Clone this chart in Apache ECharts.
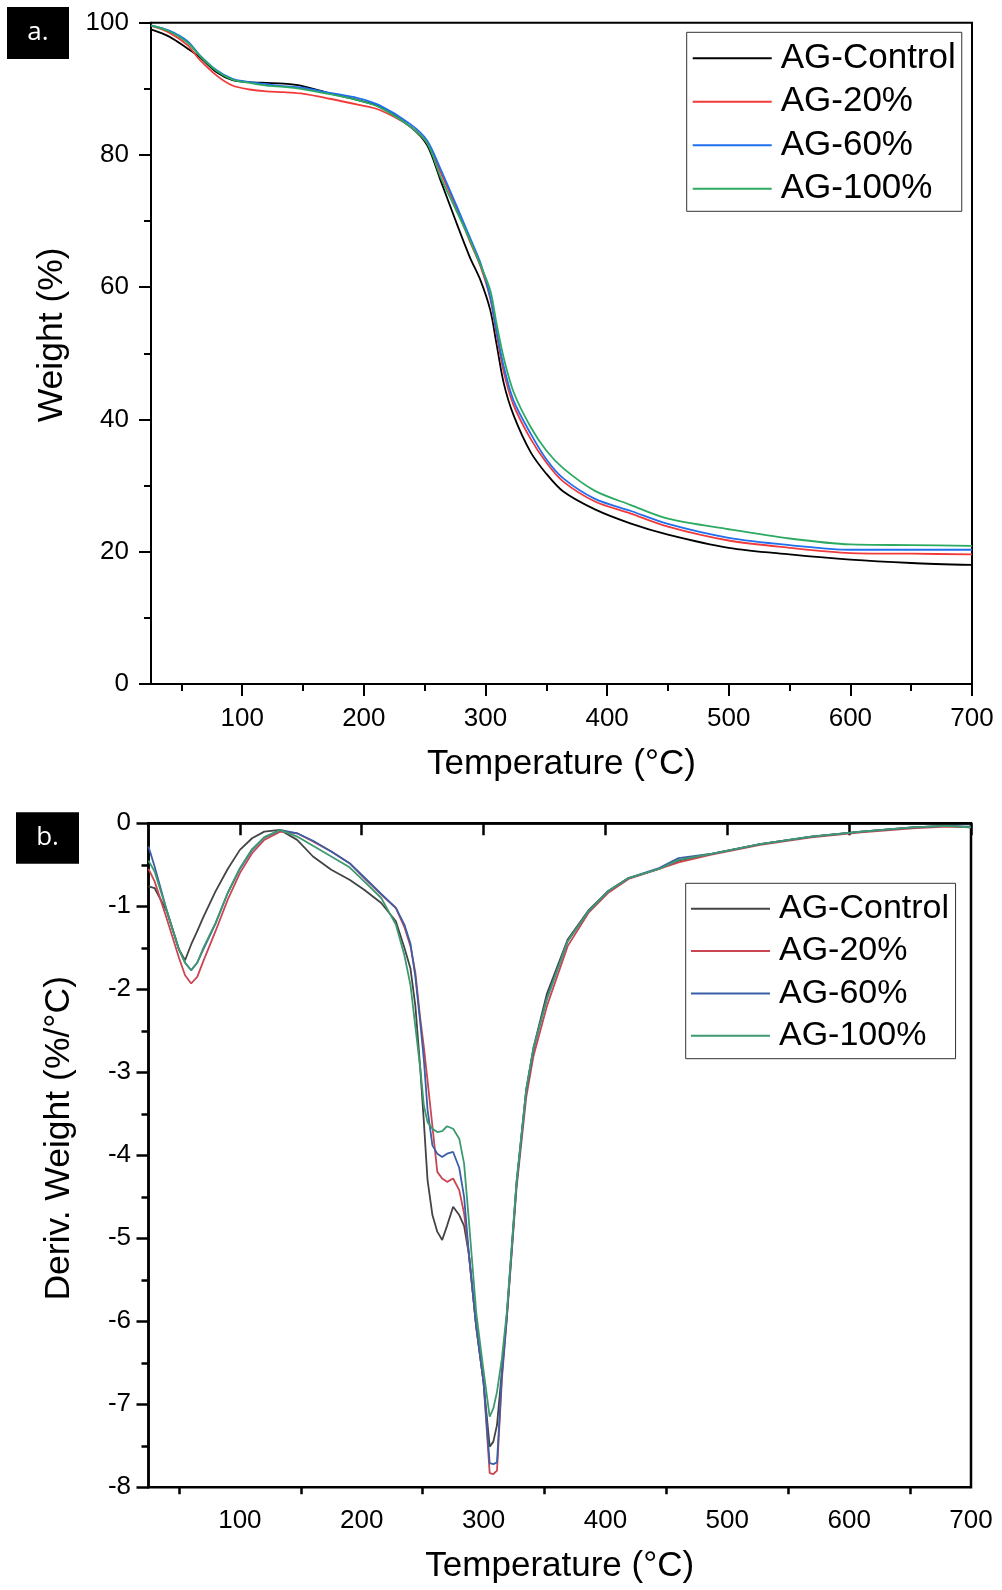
<!DOCTYPE html>
<html><head><meta charset="utf-8">
<script src="https://cdn.jsdelivr.net/npm/echarts@6/dist/echarts.min.js"></script>
<style>html,body{margin:0;padding:0;background:#fff}#top{position:absolute;left:0;top:0;width:1002px;height:790px}#bot{position:absolute;left:0;top:790px;width:1002px;height:800px}</style>
</head><body><div id="top"></div><div id="bot"></div>
<script>
const seriesNames = ['AG-Control', 'AG-20%', 'AG-60%', 'AG-100%'];
const xTickValues = [100, 200, 300, 400, 500, 600, 700];
const xMinorValues = [50, 150, 250, 350, 450, 550, 650];

// (a) TGA weight (%)
const tgaTemp = [25, 40, 55, 65, 79, 92, 106, 120, 134, 148, 172, 195, 213, 238, 252, 263, 276, 287, 296, 304, 309, 315, 323, 337, 350, 364, 390, 419, 450, 500, 550, 600, 650, 700];
const tgaControl = [99.0, 97.9, 96.1, 94.8, 92.5, 91.3, 91.0, 90.9, 90.8, 90.5, 89.3, 88.3, 87.3, 84.3, 81.5, 76.2, 69.8, 64.6, 61.0, 56.5, 51.5, 45.5, 40.7, 35.1, 31.8, 29.1, 26.4, 24.3, 22.6, 20.6, 19.6, 18.8, 18.3, 18.0];
const tga20 = [99.5, 98.5, 96.6, 94.4, 92.0, 90.5, 89.9, 89.6, 89.5, 89.3, 88.5, 87.6, 86.8, 84.3, 81.8, 77.4, 72.0, 67.0, 63.1, 58.2, 53.0, 47.2, 42.2, 37.1, 33.5, 30.6, 27.6, 25.8, 23.8, 21.7, 20.6, 19.8, 19.7, 19.6];
const tga60 = [99.6, 98.8, 97.2, 95.1, 92.8, 91.5, 91.0, 90.7, 90.4, 90.2, 89.4, 88.6, 87.5, 84.7, 82.2, 77.9, 72.4, 67.6, 63.6, 58.5, 53.5, 48.0, 42.9, 37.9, 34.0, 31.1, 28.0, 26.2, 24.2, 22.1, 21.0, 20.3, 20.3, 20.3];
const tga100 = [99.6, 98.7, 97.0, 95.0, 92.7, 91.4, 90.9, 90.5, 90.3, 90.0, 89.2, 88.3, 87.2, 84.3, 81.8, 76.7, 71.6, 67.2, 63.3, 59.5, 54.6, 49.3, 44.2, 38.9, 35.3, 32.6, 29.2, 27.1, 25.0, 23.4, 22.0, 21.1, 21.0, 20.9];

// (b) DTG deriv. weight (%/°C)
const dtgTemp = [25, 30, 40, 50, 55, 60, 65, 70, 80, 90, 100, 110, 120, 133, 147, 160, 175, 190, 202, 216, 228, 235, 240, 244, 248, 251, 254, 258, 262, 266, 270, 275, 280, 284, 288, 294, 300, 305, 308, 311, 315, 319, 327, 335, 341, 352, 369, 386, 402, 419, 444, 460, 486, 527, 569, 610, 652, 680, 700];
const dtgControl = [-0.76, -0.78, -1.06, -1.52, -1.65, -1.46, -1.30, -1.13, -0.82, -0.55, -0.32, -0.18, -0.10, -0.08, -0.20, -0.40, -0.56, -0.68, -0.80, -0.96, -1.18, -1.50, -1.75, -2.20, -2.95, -3.60, -4.30, -4.72, -4.92, -5.02, -4.85, -4.62, -4.72, -4.85, -5.20, -6.07, -6.74, -7.51, -7.45, -7.25, -6.60, -5.94, -4.34, -3.21, -2.70, -2.05, -1.40, -1.05, -0.82, -0.66, -0.55, -0.45, -0.37, -0.25, -0.16, -0.10, -0.05, -0.03, -0.05];
const dtg20 = [-0.55, -0.70, -1.15, -1.62, -1.83, -1.93, -1.85, -1.66, -1.30, -0.92, -0.60, -0.36, -0.20, -0.10, -0.12, -0.22, -0.34, -0.48, -0.66, -0.86, -1.02, -1.25, -1.48, -1.80, -2.35, -2.70, -3.10, -3.65, -4.20, -4.28, -4.32, -4.28, -4.42, -4.70, -5.20, -6.07, -6.74, -7.83, -7.84, -7.80, -6.70, -5.98, -4.40, -3.30, -2.80, -2.20, -1.48, -1.08, -0.84, -0.67, -0.55, -0.47, -0.38, -0.26, -0.17, -0.11, -0.06, -0.04, -0.05];
const dtg60 = [-0.28, -0.52, -1.05, -1.52, -1.68, -1.77, -1.68, -1.52, -1.21, -0.84, -0.55, -0.32, -0.17, -0.08, -0.12, -0.21, -0.34, -0.48, -0.65, -0.85, -1.02, -1.22, -1.45, -1.85, -2.40, -2.85, -3.45, -3.88, -3.98, -4.02, -3.98, -3.96, -4.15, -4.50, -5.20, -6.07, -6.74, -7.71, -7.72, -7.70, -6.65, -5.96, -4.36, -3.22, -2.72, -2.10, -1.42, -1.06, -0.82, -0.66, -0.54, -0.42, -0.37, -0.25, -0.16, -0.10, -0.05, -0.03, -0.04];
const dtg100 = [-0.45, -0.58, -1.05, -1.52, -1.68, -1.77, -1.68, -1.50, -1.20, -0.84, -0.54, -0.31, -0.17, -0.08, -0.16, -0.27, -0.40, -0.53, -0.70, -0.90, -1.22, -1.59, -1.95, -2.45, -2.95, -3.40, -3.60, -3.68, -3.72, -3.71, -3.65, -3.68, -3.80, -4.10, -4.80, -5.90, -6.60, -7.15, -7.05, -6.85, -6.45, -5.90, -4.32, -3.20, -2.70, -2.12, -1.42, -1.06, -0.82, -0.66, -0.55, -0.44, -0.37, -0.25, -0.16, -0.10, -0.05, -0.03, -0.05];

const FONT = 'Liberation Sans, Arial, sans-serif';
const topColors = ['#000000', '#f23a3a', '#1f6fee', '#2caa62'];
const botColors = ['#444444', '#c94652', '#3a5fa6', '#3d9a70'];

function pairs(xs, ys) { return xs.map((x, i) => [x, ys[i]]); }

function buildOption(p) {
  const axisLineStyle = { color: '#000', width: p.lw };
  return {
    animation: false,
    backgroundColor: '#fff',
    grid: { left: p.grid[0], top: p.grid[1], width: p.grid[2], height: p.grid[3], show: true, borderColor: '#000', borderWidth: p.lw, backgroundColor: 'transparent' },
    xAxis: [
      { type: 'value', min: 25, max: 700, position: 'bottom',
        axisLine: { show: true, lineStyle: axisLineStyle },
        axisTick: { show: true, customValues: xTickValues, length: 12, lineStyle: axisLineStyle },
        axisLabel: { customValues: xTickValues, margin: p.xLabelMargin, fontSize: 26, color: '#000', fontFamily: FONT },
        splitLine: { show: false },
        name: 'Temperature (°C)', nameLocation: 'middle', nameGap: p.xNameGap,
        nameTextStyle: { fontSize: 35, color: '#000', fontFamily: FONT } },
      { type: 'value', min: 25, max: 700, position: 'bottom',
        axisLine: { show: false },
        axisTick: { show: true, customValues: xMinorValues, length: 7, lineStyle: axisLineStyle },
        axisLabel: { show: false }, splitLine: { show: false } }
    ],
    yAxis: [{
      type: 'value', min: p.yMin, max: p.yMax, interval: p.yInterval,
      axisLine: { show: true, lineStyle: axisLineStyle },
      axisTick: { show: true, length: 12, lineStyle: axisLineStyle },
      minorTick: { show: true, splitNumber: 2, length: 7, lineStyle: axisLineStyle },
      axisLabel: { margin: p.yLabelMargin, fontSize: 26, color: '#000', fontFamily: FONT },
      splitLine: { show: false }, minorSplitLine: { show: false },
      name: p.yName, nameLocation: 'middle', nameGap: p.yNameGap, nameRotate: 90,
      nameTextStyle: { fontSize: 35.5, color: '#000', fontFamily: FONT, padding: [0, 0, 0, p.yNameShift] }
    }],
    legend: {
      orient: 'vertical', left: p.legend[0], top: p.legend[1], selectedMode: false,
      itemWidth: 79, itemHeight: 14, itemGap: p.legendGap, padding: p.legendPad,
      borderColor: '#333', borderWidth: 1, backgroundColor: '#fff',
      itemStyle: { opacity: 0 },
      textStyle: { fontSize: p.legendFont, lineHeight: p.legendFont, color: '#000', fontFamily: FONT, padding: [0, 0, 0, 4] },
      data: seriesNames
    },
    graphic: [
      { type: 'rect', shape: { x: p.tag[0], y: p.tag[1], width: p.tag[2], height: p.tag[3] }, style: { fill: '#000' } },
      { type: 'text', x: p.tag[0] + p.tag[2] / 2, y: p.tag[1] + p.tag[3] / 2, style: { text: p.tagText, fill: '#fff', fontSize: 26, fontFamily: '"Open Sans", sans-serif', align: 'center', verticalAlign: 'middle' } }
    ],
    series: p.data.map((d, i) => ({
      type: 'line', name: seriesNames[i], xAxisIndex: 0, yAxisIndex: 0,
      data: pairs(p.temp, d), symbol: 'none', smooth: p.smooth,
      lineStyle: { color: p.colors[i], width: 1.8 }, itemStyle: { color: p.colors[i] }
    }))
  };
}

const topChart = echarts.init(document.getElementById('top'), null, { renderer: 'canvas' });
topChart.setOption(buildOption({
  lw: 2, grid: [151, 22.7, 821, 661.3], xLabelMargin: 22, xNameGap: 63,
  yMin: 0, yMax: 100, yInterval: 20, yLabelMargin: 22, yName: 'Weight (%)', yNameGap: 81, yNameShift: 37,
  legend: [686.7, 32.3], legendGap: 8.5, legendPad: [8.5, 6, 5, 5], legendFont: 35,
  tag: [7, 7, 62, 52], tagText: 'a.',
  temp: tgaTemp, data: [tgaControl, tga20, tga60, tga100], colors: topColors, smooth: 0.3
}));

const botChart = echarts.init(document.getElementById('bot'), null, { renderer: 'canvas' });
botChart.setOption(buildOption({
  lw: 2.5, grid: [148.5, 33.3, 822.5, 664], xLabelMargin: 21, xNameGap: 62,
  yMin: -8, yMax: 0, yInterval: 1, yLabelMargin: 17.5, yName: 'Deriv. Weight (%/°C)', yNameGap: 71, yNameShift: 34,
  legend: [685.7, 93.3], legendGap: 8.3, legendPad: [8.5, 6.5, 6, 4.3], legendFont: 34,
  tag: [16, 22.3, 63, 51.4], tagText: 'b.',
  temp: dtgTemp, data: [dtgControl, dtg20, dtg60, dtg100], colors: botColors, smooth: false
}));
</script>
</body></html>
